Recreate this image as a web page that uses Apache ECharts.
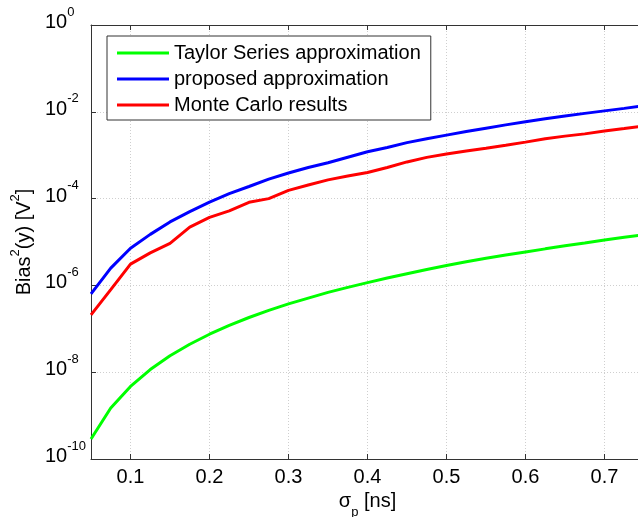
<!DOCTYPE html>
<html>
<head>
<meta charset="utf-8">
<script src="https://cdn.jsdelivr.net/npm/echarts@6/dist/echarts.min.js"></script>
<style>html,body{margin:0;padding:0;background:#fff}#c{width:638px;height:517px}</style>
</head>
<body>
<div id="c"></div>
<script>
var sigma = [0.05,0.075,0.1,0.125,0.15,0.175,0.2,0.225,0.25,0.275,0.3,0.325,0.35,0.375,0.4,0.425,0.45,0.475,0.5,0.525,0.55,0.575,0.6,0.625,0.65,0.675,0.7,0.725,0.75];
var taylor = [2.9e-10,1.5e-9,4.7e-9,1.15e-8,2.4e-8,4.4e-8,7.5e-8,1.2e-7,1.82e-7,2.65e-7,3.75e-7,5.1e-7,6.9e-7,9.0e-7,1.16e-6,1.48e-6,1.86e-6,2.33e-6,2.88e-6,3.5e-6,4.2e-6,5.0e-6,5.9e-6,6.95e-6,8.15e-6,9.5e-6,1.11e-5,1.28e-5,1.47e-5];
var proposed = [6.4e-7,2.5e-6,7.2e-6,1.5e-5,2.9e-5,5.0e-5,8.3e-5,1.3e-4,1.9e-4,2.8e-4,3.9e-4,5.2e-4,6.7e-4,9.0e-4,1.2e-3,1.5e-3,1.95e-3,2.4e-3,2.9e-3,3.5e-3,4.2e-3,5.0e-3,5.9e-3,6.9e-3,8.0e-3,9.2e-3,1.05e-2,1.2e-2,1.38e-2];
var monteCarlo = [2.1e-7,8.0e-7,3.1e-6,5.6e-6,9.3e-6,2.2e-5,3.7e-5,5.2e-5,8.2e-5,1.0e-4,1.55e-4,2.05e-4,2.7e-4,3.3e-4,4.0e-4,5.2e-4,7.0e-4,8.9e-4,1.07e-3,1.25e-3,1.45e-3,1.7e-3,2.0e-3,2.4e-3,2.75e-3,3.1e-3,3.6e-3,4.1e-3,4.7e-3];
var xTicks = [0.1,0.2,0.3,0.4,0.5,0.6,0.7];
var yTicks = [1e-10,1e-8,1e-6,1e-4,1e-2,1];
var seriesNames = ['Taylor Series approximation','proposed approximation','Monte Carlo results'];

function pairs(ys){ return sigma.map(function(x,i){ return [x, ys[i]]; }); }

var FONT = 'Liberation Sans, Arial, sans-serif';
var axisColor = '#333333';
var chart = echarts.init(document.getElementById('c'), null, {renderer:'canvas'});
var xCommon = {
  type:'value', min:0.05, max:0.75,
  axisLine:{show:true, onZero:false, lineStyle:{color:axisColor, width:1}},
  axisTick:{show:true, inside:true, length:5, customValues:xTicks, lineStyle:{color:axisColor}},
  splitLine:{show:false}
};
chart.setOption({
  animation:false,
  backgroundColor:'#ffffff',
  textStyle:{fontFamily:FONT},
  grid:{left:91, top:25, width:553, height:434, containLabel:false, outerBoundsMode:'none'},
  legend:{
    orient:'vertical', left:107, top:36,
    padding:[7,10,5,10], itemGap:6, itemWidth:52, itemHeight:3,
    icon:'rect', borderColor:'#333', borderWidth:1, backgroundColor:'#fff',
    textStyle:{fontSize:20, color:'#000', fontFamily:FONT},
    data:seriesNames
  },
  xAxis:[
    Object.assign({}, xCommon, {
      position:'bottom',
      axisLabel:{show:true, customValues:xTicks, margin:8, fontSize:20, color:'#000', fontFamily:FONT,
        formatter:function(v){ return v.toFixed(1); }},
      splitLine:{show:true, lineStyle:{color:'#cfcfcf', type:[1,2], width:1}},
      name:'{a|σ}{s|p}{a| [ns]}', nameLocation:'middle', nameGap:30,
      nameTextStyle:{fontFamily:FONT, color:'#000', rich:{
        a:{fontSize:20, lineHeight:20, verticalAlign:'top', color:'#000', fontFamily:FONT},
        s:{fontSize:13, lineHeight:13, padding:[14,0,0,0], verticalAlign:'top', color:'#000', fontFamily:FONT}
      }}
    }),
    Object.assign({}, xCommon, {position:'top', axisLabel:{show:false}})
  ],
  yAxis:{
    type:'log', logBase:10, min:1e-10, max:1,
    axisLine:{show:true, onZero:false, lineStyle:{color:axisColor, width:1}},
    axisTick:{show:true, inside:true, length:5, customValues:yTicks, lineStyle:{color:axisColor}},
    splitLine:{show:true, lineStyle:{color:'#cfcfcf', type:[1,2], width:1}},
    minorTick:{show:false},
    axisLabel:{
      show:true, align:'left', margin:46, padding:[0,0,5,0], customValues:yTicks,
      formatter:function(v){ var e = Math.round(Math.log10(v)); return '{b|10}{s|' + e + '}'; },
      rich:{
        b:{fontSize:20, lineHeight:20, verticalAlign:'bottom', color:'#000', fontFamily:FONT},
        s:{fontSize:13, lineHeight:13, padding:[0,0,14,0], verticalAlign:'bottom', color:'#000', fontFamily:FONT}
      }
    },
    name:'{a|Bias}{s|2}{a|(y) [V}{s|2}{a|]}', nameLocation:'middle', nameRotate:90, nameGap:52,
    nameTextStyle:{fontFamily:FONT, color:'#000', rich:{
      a:{fontSize:20, lineHeight:20, verticalAlign:'bottom', color:'#000', fontFamily:FONT},
      s:{fontSize:13, lineHeight:13, padding:[0,0,12,0], verticalAlign:'bottom', color:'#000', fontFamily:FONT}
    }}
  },
  series:[
    {name:seriesNames[0], type:'line', xAxisIndex:0, data:pairs(taylor), symbol:'none', color:'#00ff00', lineStyle:{width:3, color:'#00ff00'}},
    {name:seriesNames[1], type:'line', xAxisIndex:0, data:pairs(proposed), symbol:'none', color:'#0000ff', lineStyle:{width:3, color:'#0000ff'}},
    {name:seriesNames[2], type:'line', xAxisIndex:0, data:pairs(monteCarlo), symbol:'none', color:'#ff0000', lineStyle:{width:3, color:'#ff0000'}}
  ]
});
</script>
</body>
</html>
